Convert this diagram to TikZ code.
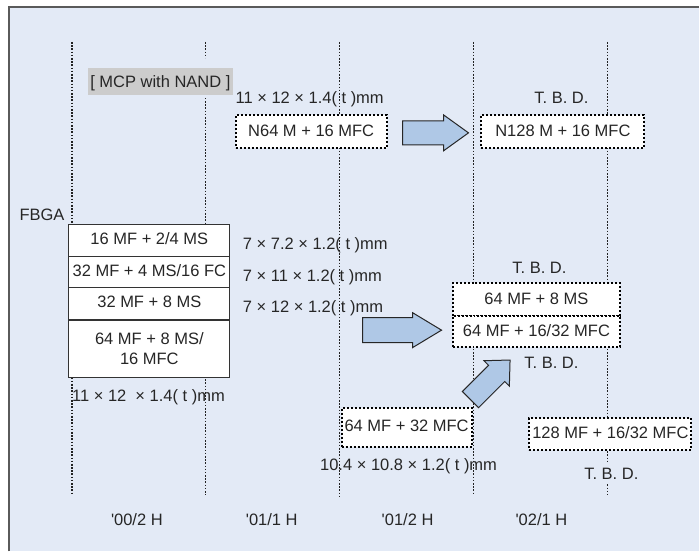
\documentclass[tikz,border=0pt]{standalone}
\usepackage{fontspec}
\newfontfamily\lsans{Liberation Sans}
\definecolor{bgc}{HTML}{E3EAF6}
\definecolor{framec}{HTML}{5A5A5A}
\definecolor{txt}{HTML}{262626}
\definecolor{guidec}{HTML}{222222}
\definecolor{cellc}{HTML}{333333}
\definecolor{graybg}{HTML}{CCCCCC}
\definecolor{arrowc}{HTML}{AFC8E6}
\begin{document}
\begin{tikzpicture}[x=1pt,y=-1pt,
  every node/.style={font=\lsans\fontsize{16.5}{21}\selectfont, text=txt, inner sep=0pt},
  lbl/.style={text height=11.8pt, text depth=0pt},
  guide/.style={draw=guidec, line width=1.2pt, dash pattern=on 1.6pt off 1.6pt},
  dotbox/.style={text height=11.8pt, text depth=2pt, draw=black, fill=white, line width=2pt, dash pattern=on 2pt off 2pt},
  cell/.style={draw=cellc, fill=white, line width=1.1pt, minimum width=161pt},
  onecell/.style={cell, text height=11.8pt, text depth=4pt},
  barrow/.style={draw=txt, fill=arrowc, line width=1pt, line join=miter},
]
% background and frame
\fill[white] (0,0) rectangle (700,552);
\fill[bgc] (9,7) rectangle (700,552);
\draw[framec, line width=1.5pt] (9,552) -- (9,7) -- (700,7);
\useasboundingbox (0,0) rectangle (700,552);

% guide lines
\draw[guide] (72,42) -- (72,495);
\draw[guide] (206,42) -- (206,58) (206,98) -- (206,495);
\draw[guide] (340,42) -- (340,497);
\draw[guide] (474,42) -- (474,495);
\draw[guide] (608,42) -- (608,463) (608,485) -- (608,495);

% top row
\node[lbl, fill=graybg, minimum width=145pt, minimum height=27pt] (mcp) at (160.5,81.5) {[ MCP with NAND ]};
\node[lbl] (s1) at (310,98) {11 × 12 × 1.4( t )mm};
\node[dotbox, minimum width=151pt, minimum height=33pt] (n64) at (311.5,131.5) {N64 M + 16 MFC};
\node[lbl] (tbd1) at (562,98) {T. B. D.};
\node[dotbox, minimum width=163pt, minimum height=33pt] (n128) at (563.5,131.5) {N128 M + 16 MFC};
\draw[barrow] (403,121) -- (444,121) -- (444,115) -- (469,133) -- (444,151) -- (444,145) -- (403,145) -- cycle;

% FBGA stack
\node[lbl] (fbga) at (42,215) {FBGA};
\node[onecell, minimum height=32pt] (r1) at (149.5,241) {16 MF + 2/4 MS};
\node[onecell, minimum height=31pt] (r2) at (149.5,272.5) {32 MF + 4 MS/16 FC};
\node[onecell, minimum height=32pt] (r3) at (149.5,304) {32 MF + 8 MS};
\node[cell, minimum height=57pt, align=center, font=\lsans\fontsize{16.5}{20}\selectfont] (r4) at (149.5,349) {64 MF + 8 MS/\\16 MFC};
\node[lbl, anchor=west] (z1) at (243,243.5) {7 × 7.2 × 1.2( t )mm};
\node[lbl, anchor=west] (z2) at (243,275.5) {7 × 11 × 1.2( t )mm};
\node[lbl, anchor=west] (z3) at (243,307) {7 × 12 × 1.2( t )mm};
\node[lbl, anchor=west] (z4) at (72,396) {11 × 12\ \ × 1.4( t )mm};

% middle right
\draw[barrow] (363,318) -- (413,318) -- (413,313) -- (442,330.5) -- (413,348) -- (413,343) -- (363,343) -- cycle;
\node[lbl] (tbd2) at (540,268) {T. B. D.};
\node[dotbox, minimum width=168pt, minimum height=33pt] (m1) at (537,299.5) {64 MF + 8 MS};
\node[dotbox, minimum width=168pt, minimum height=31pt] (m2) at (537,331.5) {64 MF + 16/32 MFC};
\node[lbl] (tbd3) at (552,363) {T. B. D.};
\draw[barrow] (462.9,391.9) -- (489.1,365.7) -- (484.5,361.1) -- (510.6,360.4) -- (509.9,386.5) -- (505.3,381.9) -- (479.1,408.1) -- cycle;

% bottom boxes
\node[dotbox, minimum width=130pt, minimum height=39pt] (c1) at (407,427.5) {64 MF + 32 MFC};
\node[lbl] (s5) at (409,465) {10.4 × 10.8 × 1.2( t )mm};
\node[dotbox, minimum width=162pt, minimum height=32pt] (c2) at (611,434) {128 MF + 16/32 MFC};
\node[lbl] (tbd4) at (612,474) {T. B. D.};

% period labels
\node[lbl] (p1) at (137,520) {'00/2 H};
\node[lbl] (p2) at (272,520) {'01/1 H};
\node[lbl] (p3) at (408,520) {'01/2 H};
\node[lbl] (p4) at (542,520) {'02/1 H};
\end{tikzpicture}
\end{document}
